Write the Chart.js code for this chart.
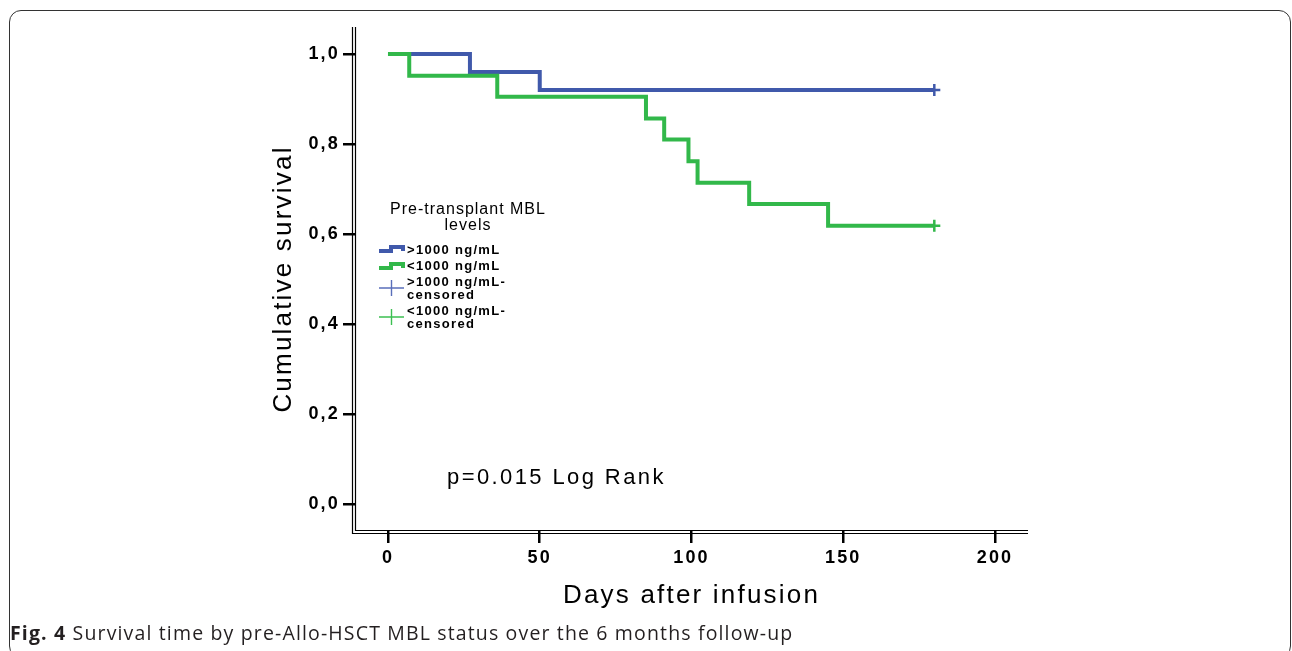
<!DOCTYPE html>
<html>
<head>
<meta charset="utf-8">
<script src="https://cdn.jsdelivr.net/npm/chart.js@4.4.1/dist/chart.umd.min.js"></script>
<style>
  html, body { margin: 0; padding: 0; background: #fff; }
  #wrap { position: relative; width: 1292px; height: 651px; overflow: hidden; }
  #frame {
    position: absolute; left: 9px; top: 10px; width: 1282px; height: 648px;
    border: 1.5px solid #333; border-radius: 12px; box-sizing: border-box;
  }
  #chart { position: absolute; left: 0; top: 0; }
  #caption {
    position: absolute; left: 10px; top: 619px;
    font-family: "Open Sans", sans-serif; font-size: 19.5px; color: #231f20;
    letter-spacing: 1.15px; white-space: nowrap;
  }
  #caption b { font-weight: 700; }
</style>
</head>
<body>
<div id="wrap">
  <div id="frame"></div>
  <canvas id="chart" width="1292" height="651"></canvas>
  <div id="caption"><b>Fig. 4</b> Survival time by pre-Allo-HSCT MBL status over the 6 months follow-up</div>
</div>
<script>
// Kaplan-Meier steps
const highDays = [0, 27, 50, 180];
const highSurv = [1.0, 0.96, 0.92, 0.92];
const lowDays = [0, 7, 36, 85, 91, 99, 102, 119, 145, 180];
const lowSurv = [1.0, 0.952, 0.905, 0.857, 0.81, 0.762, 0.714, 0.667, 0.619, 0.619];

// censored observations
const highCensorDays = [180];
const highCensorSurv = [0.92];
const lowCensorDays = [180];
const lowCensorSurv = [0.619];

const xTicks = [0, 50, 100, 150, 200];
const yTicks = [0, 0.2, 0.4, 0.6, 0.8, 1.0];

const BLUE = '#4059ab';
const GREEN = '#32b84a';
const FONT = '"Liberation Sans", Arial, sans-serif';

const toPoints = (xs, ys) => xs.map((x, i) => ({ x, y: ys[i] }));

// text spacing used by the axes (set before library draws)
const spacingPlugin = {
  id: 'spacing',
  beforeDraw(chart) {
    chart.ctx.letterSpacing = '2.2px';
  }
};

// double axis lines + legend + log-rank note
const decorPlugin = {
  id: 'decor',
  afterDraw(chart) {
    const { ctx, chartArea } = chart;
    const { left, right, top, bottom } = chartArea;
    ctx.save();
    ctx.letterSpacing = '0px';
    ctx.strokeStyle = '#000';
    ctx.lineWidth = 1.2;
    ctx.beginPath();
    // outer
    ctx.moveTo(left - 2.5, top);
    ctx.lineTo(left - 2.5, bottom + 2.5);
    ctx.lineTo(right, bottom + 2.5);
    // inner
    ctx.moveTo(left + 0.5, top);
    ctx.lineTo(left + 0.5, bottom - 0.5);
    ctx.lineTo(right, bottom - 0.5);
    ctx.stroke();

    // legend
    ctx.fillStyle = '#000';
    ctx.textAlign = 'center';
    ctx.textBaseline = 'middle';
    ctx.font = '16px ' + FONT;
    ctx.letterSpacing = '1px';
    ctx.fillText('Pre-transplant MBL', 468, 210);
    ctx.fillText('levels', 468, 226);

    const stepIcon = (y, color) => {
      ctx.strokeStyle = color;
      ctx.lineWidth = 4;
      ctx.lineJoin = 'miter';
      ctx.beginPath();
      ctx.moveTo(379, y + 2);
      ctx.lineTo(391, y + 2);
      ctx.lineTo(391, y - 2);
      ctx.lineTo(403, y - 2);
      ctx.lineTo(403, y + 2);
      ctx.stroke();
    };
    const crossIcon = (y, color) => {
      ctx.strokeStyle = color;
      ctx.lineWidth = 1.4;
      ctx.beginPath();
      ctx.moveTo(379, y);
      ctx.lineTo(404, y);
      ctx.moveTo(391.5, y - 8);
      ctx.lineTo(391.5, y + 8);
      ctx.stroke();
    };
    stepIcon(249, BLUE);
    stepIcon(266, GREEN);
    crossIcon(288, '#5a6fba');
    crossIcon(317, '#3cc052');

    ctx.textAlign = 'left';
    ctx.font = 'bold 13px ' + FONT;
    ctx.letterSpacing = '1.3px';
    ctx.fillText('>1000 ng/mL', 407, 250);
    ctx.fillText('<1000 ng/mL', 407, 266);
    ctx.fillText('>1000 ng/mL-', 407, 282);
    ctx.fillText('censored', 407, 295);
    ctx.fillText('<1000 ng/mL-', 407, 311);
    ctx.fillText('censored', 407, 324);

    ctx.font = '22px ' + FONT;
    ctx.letterSpacing = '2.4px';
    ctx.textBaseline = 'alphabetic';
    ctx.fillText('p=0.015 Log Rank', 447, 484);
    ctx.restore();
  }
};

const ctx = document.getElementById('chart').getContext('2d');
new Chart(ctx, {
  type: 'line',
  data: {
    datasets: [
      {
        label: '<1000 ng/mL',
        data: toPoints(lowDays, lowSurv),
        borderColor: GREEN,
        borderWidth: 4,
        stepped: 'before',
        pointRadius: 0,
        fill: false,
        order: 1
      },
      {
        label: '>1000 ng/mL',
        data: toPoints(highDays, highSurv),
        borderColor: BLUE,
        borderWidth: 4,
        stepped: 'before',
        pointRadius: 0,
        fill: false,
        order: 2
      },
      {
        type: 'scatter',
        label: '>1000 ng/mL-censored',
        data: toPoints(highCensorDays, highCensorSurv),
        borderColor: BLUE,
        pointStyle: 'cross',
        pointRadius: 6,
        borderWidth: 2.5,
        order: 0
      },
      {
        type: 'scatter',
        label: '<1000 ng/mL-censored',
        data: toPoints(lowCensorDays, lowCensorSurv),
        borderColor: GREEN,
        pointStyle: 'cross',
        pointRadius: 6,
        borderWidth: 2.5,
        order: 0
      }
    ]
  },
  options: {
    responsive: false,
    animation: false,
    devicePixelRatio: 1,
    layout: { padding: { left: 258, top: 27, right: 264, bottom: 40 } },
    plugins: {
      legend: { display: false },
      tooltip: { enabled: false }
    },
    scales: {
      x: {
        type: 'linear',
        min: -10.87,
        max: 210.87,
        afterBuildTicks: (scale) => { scale.ticks = xTicks.map(v => ({ value: v })); },
        afterFit: (scale) => { scale.height = 80; },
        border: { display: false },
        grid: { drawOnChartArea: false, drawTicks: true, tickLength: 12, color: '#000', lineWidth: 2.5 },
        ticks: {
          color: '#000',
          font: { family: FONT, size: 18, weight: 'bold' },
          padding: 4,
          maxRotation: 0
        },
        title: {
          display: true,
          text: 'Days after infusion',
          color: '#000',
          font: { family: FONT, size: 26 },
          padding: { top: 0, bottom: 0 }
        }
      },
      y: {
        type: 'linear',
        min: -0.0588,
        max: 1.06,
        afterBuildTicks: (scale) => { scale.ticks = yTicks.map(v => ({ value: v })); },
        afterFit: (scale) => { scale.width = 97; },
        border: { display: false },
        grid: { drawOnChartArea: false, drawTicks: true, tickLength: 12, color: '#000', lineWidth: 2.5 },
        ticks: {
          color: '#000',
          font: { family: FONT, size: 18, weight: 'bold' },
          padding: 3,
          callback: (v) => v.toFixed(1).replace('.', ',')
        },
        title: {
          display: true,
          text: 'Cumulative survival',
          color: '#000',
          font: { family: FONT, size: 26 },
          padding: { top: 10, bottom: 0 }
        }
      }
    }
  },
  plugins: [spacingPlugin, decorPlugin]
});
</script>
</body>
</html>
